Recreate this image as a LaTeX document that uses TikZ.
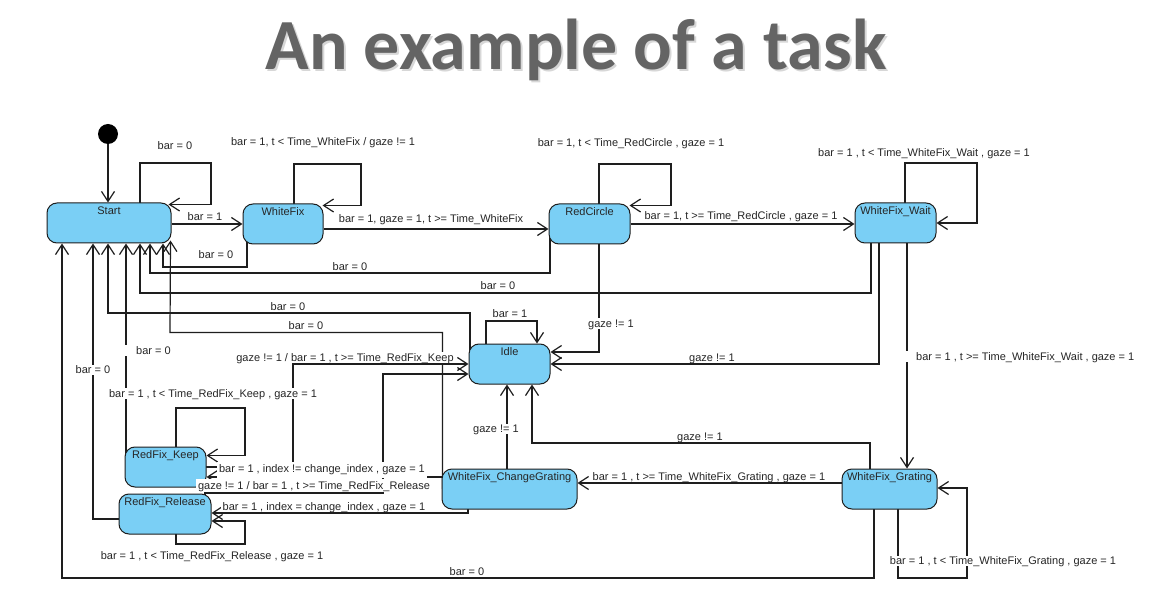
\documentclass[tikz,border=0pt]{standalone}
\usepackage{fontspec}
\setmainfont{Liberation Sans}
\newfontfamily\titlefont{Carlito}
\usetikzlibrary{arrows.meta,backgrounds}
\definecolor{statefill}{RGB}{122,207,245}
\definecolor{lineclr}{RGB}{30,30,30}
\definecolor{titleclr}{RGB}{100,100,100}
\definecolor{titleshade}{RGB}{215,215,215}
\begin{document}
\begin{tikzpicture}[x=1pt,y=-1pt,
  state/.style={draw=lineclr, line width=1pt, fill=statefill, rounded corners=10pt, inner sep=0pt, minimum height=40pt},
  sname/.style={anchor=base, inner sep=0pt, font=\fontsize{11}{13}\selectfont, text=black!85},
  lab/.style={anchor=base, fill=white, inner xsep=2pt, inner ysep=1pt, text height=8pt, text depth=0.5pt, font=\fontsize{11}{13}\selectfont, text=black!85},
  tr/.style={draw=lineclr, line width=1.2pt, -{Straight Barb[length=10pt,width=13pt]}},
  titlestyle/.style={anchor=base, inner sep=0pt, font=\titlefont\bfseries\fontsize{72}{80}\selectfont}
]
\useasboundingbox (0,0) rectangle (1150,609);

% title
\node[titlestyle, text=titleshade] (titleshadow) at (578,72) {An example of a task};
\node[titlestyle, text=titleclr] (title) at (576,70) {An example of a task};

% states
\node[circle, fill=black, minimum size=20pt, inner sep=0pt] (init) at (108,134) {};
\node[state, minimum width=124pt] (start) at (109,223) {};
\node[state, minimum width=80pt] (whitefix) at (283,224) {};
\node[state, minimum width=81pt] (redcircle) at (589.5,224) {};
\node[state, minimum width=81pt] (wfwait) at (895.5,223) {};
\node[state, minimum width=81pt] (idle) at (509.5,364) {};
\node[state, minimum width=81pt] (redkeep) at (165.5,467) {};
\node[state, minimum width=92pt] (redrelease) at (165,514) {};
\node[state, minimum width=135pt] (changegrating) at (509.5,489) {};
\node[state, minimum width=95pt] (grating) at (889.5,489) {};

\node[sname] (startname) at ([yshift=-12pt]start.north) {Start};
\node[sname] (whitefixname) at ([yshift=-12pt]whitefix.north) {WhiteFix};
\node[sname] (redcirclename) at ([yshift=-12pt]redcircle.north) {RedCircle};
\node[sname] (wfwaitname) at ([yshift=-12pt]wfwait.north) {WhiteFix\_Wait};
\node[sname] (idlename) at ([yshift=-12pt]idle.north) {Idle};
\node[sname] (redkeepname) at ([yshift=-12pt]redkeep.north) {RedFix\_Keep};
\node[sname] (redreleasename) at ([yshift=-12pt]redrelease.north) {RedFix\_Release};
\node[sname] (changegratingname) at ([yshift=-12pt]changegrating.north) {WhiteFix\_ChangeGrating};
\node[sname] (gratingname) at ([yshift=-12pt]grating.north) {WhiteFix\_Grating};

\begin{pgfonlayer}{background}
\fill[white] (0,0) rectangle (1150,609);
% initial
\draw[tr] (init) -- (init |- start.north);
% start loop
\draw[tr] (140,0 |- start.center) |- (211,163) |- ([xshift=-3pt,yshift=-2pt]start.north east);
% start -> whitefix
\draw[tr] (start.east |- 0,224) -- (whitefix.west |- 0,224);
% whitefix loop
\draw[tr] (294,0 |- whitefix.center) |- (361,164) |- ([xshift=-1pt,yshift=-2pt]whitefix.north east);
% whitefix -> start
\draw[tr] (247,0 |- whitefix.center) |- (163,267) -- (163,0 |- start.south);
% whitefix -> redcircle
\draw[tr] (whitefix.east |- 0,229) -- (redcircle.west |- 0,229);
% redcircle -> start
\draw[tr] (550,0 |- redcircle.center) |- (150,273) -- (150,0 |- start.south);
% redcircle loop
\draw[tr] (599,0 |- redcircle.center) |- (671,164) |- ([xshift=-1pt,yshift=-2pt]redcircle.north east);
% redcircle -> wfwait
\draw[tr] (redcircle.east |- 0,224) -- (wfwait.west |- 0,224);
% wfwait loop
\draw[tr] (905,0 |- wfwait.center) |- (977,163) |- (wfwait.east);
% wfwait -> start
\draw[tr] (871,0 |- wfwait.center) |- (140,293) -- (140,0 |- start.south);
% wfwait -> idle
\draw[tr] (879,0 |- wfwait.center) |- (idle.east);
% redcircle -> idle
\draw[tr] (599,0 |- redcircle.center) |- (idle.east |- 0,352);
% wfwait -> grating
\draw[tr] (907,0 |- wfwait.center) -- (907,0 |- grating.north);
% idle -> start
\draw[tr] (470,0 |- idle.center) |- (108,313) -- (108,0 |- start.south);
% idle loop
\draw[tr] (486,0 |- idle.center) |- (537,321) -- (537,0 |- idle.north);
% changegrating -> start
\draw[tr] (442.5,0 |- changegrating.center) |- (170,332.5) -- ([xshift=-1pt,yshift=3pt]start.south east);
% changegrating -> idle
\draw[tr] (507,0 |- changegrating.center) -- (507,0 |- idle.south);
% grating -> idle
\draw[tr] (870,0 |- grating.center) |- (532,443) -- (532,0 |- idle.south);
% grating -> changegrating
\draw[tr] (grating.west |- 0,483) -- (changegrating.east |- 0,483);
% grating loop
\draw[tr] (898,0 |- grating.center) |- (967,578) |- (grating.east |- 0,488);
% grating -> start
\draw[tr] (874,0 |- grating.center) |- (62,578) -- (62,0 |- start.south);
% changegrating -> redrelease
\draw[tr] (468,0 |- changegrating.center) |- (redrelease.east |- 0,513);
% changegrating -> redkeep
\draw[tr] (changegrating.west |- 0,477) -- (redkeep.east |- 0,477);
% redkeep -> start
\draw[tr] (126,0 |- redkeep.center) -- (126,0 |- start.south);
% redkeep loop
\draw[tr] (176,0 |- redkeep.center) |- (245,408) |- ([yshift=-9pt]redkeep.north east);
% redkeep -> idle
\draw[tr] (redkeep.center |- 0,467) -| (293,364) -- (idle.west |- 0,364);
% redrelease -> idle
\draw[tr] (205,0 |- redrelease.center) |- (383,493) |- (idle.west |- 0,374);
% redrelease loop
\draw[tr] (176,0 |- redrelease.center) |- (245,544) |- (redrelease.east |- 0,521);
% redrelease -> start
\draw[tr] (redrelease.center |- 0,519) -| (93,0 |- start.south);
\end{pgfonlayer}

% labels
\node[lab] (lb1) at (175,150) {bar = 0};
\node[lab] (lb2) at (323,146) {bar = 1, t < Time\_WhiteFix / gaze != 1};
\node[lab] (lb3) at (205,221) {bar = 1};
\node[lab] (lb4) at (216,259) {bar = 0};
\node[lab] (lb5) at (431,223) {bar = 1, gaze = 1, t >= Time\_WhiteFix};
\node[lab] (lb6) at (350,271) {bar = 0};
\node[lab] (lb7) at (631,147) {bar = 1, t < Time\_RedCircle , gaze = 1};
\node[lab] (lb8) at (741,220) {bar = 1, t >= Time\_RedCircle , gaze = 1};
\node[lab] (lb9) at (924,157) {bar = 1 , t < Time\_WhiteFix\_Wait , gaze = 1};
\node[lab] (lb10) at (498,290) {bar = 0};
\node[lab] (lb11) at (288,310) {bar = 0};
\node[lab] (lb12) at (306,329) {bar = 0};
\node[lab] (lb13) at (510,317.5) {bar = 1};
\node[lab] (lb14) at (611,327) {gaze != 1};
\node[lab] (lb15) at (712,361) {gaze != 1};
\node[lab, anchor=base west, inner xsep=11pt] (lb16) at (905,360) {bar = 1 , t >= Time\_WhiteFix\_Wait , gaze = 1};
\node[lab] (lb17) at (345,361) {gaze != 1 / bar = 1 , t >= Time\_RedFix\_Keep};
\node[lab, anchor=base west, inner xsep=12pt] (lb18) at (124,354) {bar = 0};
\node[lab] (lb19) at (93,373.5) {bar = 0};
\node[lab] (lb20) at (213,397) {bar = 1 , t < Time\_RedFix\_Keep , gaze = 1};
\node[lab] (lb21) at (496,432.5) {gaze != 1};
\node[lab] (lb22) at (700,440) {gaze != 1};
\node[lab] (lb23) at (709,480.5) {bar = 1 , t >= Time\_WhiteFix\_Grating , gaze = 1};
\node[lab, inner ysep=2.5pt, text depth=3pt] (lb24) at (322,472) {bar = 1 , index != change\_index , gaze = 1};
\node[lab, inner ysep=2.5pt] (lb25) at (314,489) {gaze != 1 / bar = 1 , t >= Time\_RedFix\_Release};
\node[lab] (lb26) at (324,510.5) {bar = 1 , index = change\_index , gaze = 1};
\node[lab] (lb27) at (212,559) {bar = 1 , t < Time\_RedFix\_Release , gaze = 1};
\node[lab] (lb28) at (467,575) {bar = 0};
\node[lab] (lb29) at (1003,564.5) {bar = 1 , t < Time\_WhiteFix\_Grating , gaze = 1};
\end{tikzpicture}
\end{document}
